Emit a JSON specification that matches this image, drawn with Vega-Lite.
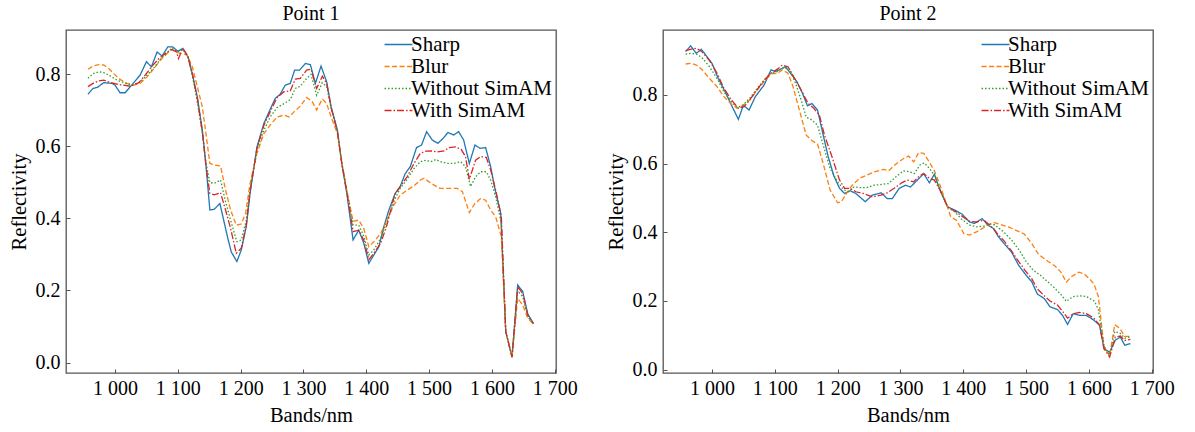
{
  "$schema": "https://vega.github.io/schema/vega-lite/v6.json",
  "background": "white",
  "padding": {"left": 8, "top": 3, "right": 2, "bottom": 2},
  "config": {
    "font": "Liberation Serif",
    "view": {"stroke": "#555555", "strokeWidth": 1.3},
    "axis": {"grid": false, "domain": false, "labelFont": "Liberation Serif", "labelFontSize": 20, "labelColor": "#000000", "titleFont": "Liberation Serif", "titleFontSize": 20.5, "titleFontWeight": "normal", "titleColor": "#000000", "tickColor": "#555555", "tickSize": -4, "tickWidth": 1},
    "axisX": {"labelPadding": 9, "titlePadding": 7, "labelFlush": false},
    "axisY": {"labelPadding": 10, "titlePadding": 6},
    "legend": {"labelFont": "Liberation Serif", "labelFontSize": 21, "labelColor": "#000000", "symbolType": "M-1.55,0H1.55", "symbolSize": 324, "symbolStrokeWidth": 1.3, "rowPadding": 0, "labelOffset": 2, "padding": 0, "offset": 4},
    "title": {"font": "Liberation Serif", "fontSize": 20, "fontWeight": "normal", "color": "#000000", "offset": 6}
  },
  "data": {"values": [
    {"point":1,"series":"Sharp","band":957,"value":0.744},{"point":1,"series":"Sharp","band":965,"value":0.760},{"point":1,"series":"Sharp","band":972,"value":0.763},{"point":1,"series":"Sharp","band":982,"value":0.776},{"point":1,"series":"Sharp","band":995,"value":0.774},{"point":1,"series":"Sharp","band":1000,"value":0.769},{"point":1,"series":"Sharp","band":1008,"value":0.748},{"point":1,"series":"Sharp","band":1016,"value":0.748},{"point":1,"series":"Sharp","band":1025,"value":0.766},{"point":1,"series":"Sharp","band":1040,"value":0.797},{"point":1,"series":"Sharp","band":1050,"value":0.834},{"point":1,"series":"Sharp","band":1058,"value":0.820},{"point":1,"series":"Sharp","band":1067,"value":0.861},{"point":1,"series":"Sharp","band":1075,"value":0.850},{"point":1,"series":"Sharp","band":1084,"value":0.875},{"point":1,"series":"Sharp","band":1092,"value":0.875},{"point":1,"series":"Sharp","band":1100,"value":0.863},{"point":1,"series":"Sharp","band":1108,"value":0.871},{"point":1,"series":"Sharp","band":1116,"value":0.848},{"point":1,"series":"Sharp","band":1123,"value":0.801},{"point":1,"series":"Sharp","band":1131,"value":0.737},{"point":1,"series":"Sharp","band":1139,"value":0.645},{"point":1,"series":"Sharp","band":1145,"value":0.543},{"point":1,"series":"Sharp","band":1151,"value":0.423},{"point":1,"series":"Sharp","band":1158,"value":0.425},{"point":1,"series":"Sharp","band":1167,"value":0.441},{"point":1,"series":"Sharp","band":1173,"value":0.395},{"point":1,"series":"Sharp","band":1179,"value":0.349},{"point":1,"series":"Sharp","band":1185,"value":0.307},{"point":1,"series":"Sharp","band":1194,"value":0.280},{"point":1,"series":"Sharp","band":1201,"value":0.312},{"point":1,"series":"Sharp","band":1209,"value":0.377},{"point":1,"series":"Sharp","band":1215,"value":0.469},{"point":1,"series":"Sharp","band":1226,"value":0.598},{"point":1,"series":"Sharp","band":1237,"value":0.663},{"point":1,"series":"Sharp","band":1247,"value":0.702},{"point":1,"series":"Sharp","band":1255,"value":0.732},{"point":1,"series":"Sharp","band":1263,"value":0.744},{"point":1,"series":"Sharp","band":1271,"value":0.769},{"point":1,"series":"Sharp","band":1279,"value":0.774},{"point":1,"series":"Sharp","band":1286,"value":0.811},{"point":1,"series":"Sharp","band":1294,"value":0.811},{"point":1,"series":"Sharp","band":1303,"value":0.829},{"point":1,"series":"Sharp","band":1311,"value":0.826},{"point":1,"series":"Sharp","band":1319,"value":0.774},{"point":1,"series":"Sharp","band":1328,"value":0.822},{"point":1,"series":"Sharp","band":1337,"value":0.778},{"point":1,"series":"Sharp","band":1344,"value":0.709},{"point":1,"series":"Sharp","band":1354,"value":0.645},{"point":1,"series":"Sharp","band":1361,"value":0.552},{"point":1,"series":"Sharp","band":1369,"value":0.469},{"point":1,"series":"Sharp","band":1379,"value":0.340},{"point":1,"series":"Sharp","band":1388,"value":0.367},{"point":1,"series":"Sharp","band":1396,"value":0.331},{"point":1,"series":"Sharp","band":1404,"value":0.275},{"point":1,"series":"Sharp","band":1412,"value":0.298},{"point":1,"series":"Sharp","band":1420,"value":0.321},{"point":1,"series":"Sharp","band":1428,"value":0.377},{"point":1,"series":"Sharp","band":1436,"value":0.423},{"point":1,"series":"Sharp","band":1446,"value":0.469},{"point":1,"series":"Sharp","band":1454,"value":0.488},{"point":1,"series":"Sharp","band":1462,"value":0.524},{"point":1,"series":"Sharp","band":1470,"value":0.543},{"point":1,"series":"Sharp","band":1480,"value":0.596},{"point":1,"series":"Sharp","band":1488,"value":0.603},{"point":1,"series":"Sharp","band":1496,"value":0.640},{"point":1,"series":"Sharp","band":1505,"value":0.617},{"point":1,"series":"Sharp","band":1514,"value":0.608},{"point":1,"series":"Sharp","band":1522,"value":0.621},{"point":1,"series":"Sharp","band":1530,"value":0.638},{"point":1,"series":"Sharp","band":1539,"value":0.631},{"point":1,"series":"Sharp","band":1547,"value":0.640},{"point":1,"series":"Sharp","band":1555,"value":0.617},{"point":1,"series":"Sharp","band":1564,"value":0.552},{"point":1,"series":"Sharp","band":1573,"value":0.603},{"point":1,"series":"Sharp","band":1581,"value":0.594},{"point":1,"series":"Sharp","band":1590,"value":0.596},{"point":1,"series":"Sharp","band":1598,"value":0.543},{"point":1,"series":"Sharp","band":1604,"value":0.488},{"point":1,"series":"Sharp","band":1614,"value":0.414},{"point":1,"series":"Sharp","band":1622,"value":0.086},{"point":1,"series":"Sharp","band":1632,"value":0.015},{"point":1,"series":"Sharp","band":1641,"value":0.215},{"point":1,"series":"Sharp","band":1649,"value":0.197},{"point":1,"series":"Sharp","band":1657,"value":0.135},{"point":1,"series":"Sharp","band":1666,"value":0.109},
    {"point":1,"series":"Blur","band":957,"value":0.813},{"point":1,"series":"Blur","band":965,"value":0.822},{"point":1,"series":"Blur","band":974,"value":0.826},{"point":1,"series":"Blur","band":982,"value":0.825},{"point":1,"series":"Blur","band":990,"value":0.815},{"point":1,"series":"Blur","band":998,"value":0.801},{"point":1,"series":"Blur","band":1008,"value":0.785},{"point":1,"series":"Blur","band":1019,"value":0.774},{"point":1,"series":"Blur","band":1030,"value":0.769},{"point":1,"series":"Blur","band":1040,"value":0.774},{"point":1,"series":"Blur","band":1051,"value":0.792},{"point":1,"series":"Blur","band":1062,"value":0.815},{"point":1,"series":"Blur","band":1072,"value":0.838},{"point":1,"series":"Blur","band":1083,"value":0.857},{"point":1,"series":"Blur","band":1091,"value":0.868},{"point":1,"series":"Blur","band":1099,"value":0.859},{"point":1,"series":"Blur","band":1107,"value":0.857},{"point":1,"series":"Blur","band":1115,"value":0.852},{"point":1,"series":"Blur","band":1123,"value":0.820},{"point":1,"series":"Blur","band":1131,"value":0.765},{"point":1,"series":"Blur","band":1139,"value":0.709},{"point":1,"series":"Blur","band":1144,"value":0.645},{"point":1,"series":"Blur","band":1151,"value":0.552},{"point":1,"series":"Blur","band":1158,"value":0.548},{"point":1,"series":"Blur","band":1168,"value":0.545},{"point":1,"series":"Blur","band":1176,"value":0.478},{"point":1,"series":"Blur","band":1184,"value":0.423},{"point":1,"series":"Blur","band":1193,"value":0.381},{"point":1,"series":"Blur","band":1201,"value":0.384},{"point":1,"series":"Blur","band":1208,"value":0.414},{"point":1,"series":"Blur","band":1215,"value":0.497},{"point":1,"series":"Blur","band":1226,"value":0.580},{"point":1,"series":"Blur","band":1237,"value":0.635},{"point":1,"series":"Blur","band":1247,"value":0.658},{"point":1,"series":"Blur","band":1258,"value":0.681},{"point":1,"series":"Blur","band":1269,"value":0.686},{"point":1,"series":"Blur","band":1277,"value":0.681},{"point":1,"series":"Blur","band":1285,"value":0.695},{"point":1,"series":"Blur","band":1295,"value":0.711},{"point":1,"series":"Blur","band":1305,"value":0.735},{"point":1,"series":"Blur","band":1314,"value":0.723},{"point":1,"series":"Blur","band":1321,"value":0.700},{"point":1,"series":"Blur","band":1330,"value":0.731},{"point":1,"series":"Blur","band":1337,"value":0.718},{"point":1,"series":"Blur","band":1344,"value":0.681},{"point":1,"series":"Blur","band":1354,"value":0.635},{"point":1,"series":"Blur","band":1361,"value":0.557},{"point":1,"series":"Blur","band":1369,"value":0.478},{"point":1,"series":"Blur","band":1379,"value":0.391},{"point":1,"series":"Blur","band":1388,"value":0.395},{"point":1,"series":"Blur","band":1396,"value":0.372},{"point":1,"series":"Blur","band":1404,"value":0.321},{"point":1,"series":"Blur","band":1412,"value":0.335},{"point":1,"series":"Blur","band":1423,"value":0.358},{"point":1,"series":"Blur","band":1433,"value":0.395},{"point":1,"series":"Blur","band":1444,"value":0.437},{"point":1,"series":"Blur","band":1454,"value":0.464},{"point":1,"series":"Blur","band":1465,"value":0.478},{"point":1,"series":"Blur","band":1476,"value":0.490},{"point":1,"series":"Blur","band":1486,"value":0.506},{"point":1,"series":"Blur","band":1492,"value":0.511},{"point":1,"series":"Blur","band":1500,"value":0.501},{"point":1,"series":"Blur","band":1508,"value":0.492},{"point":1,"series":"Blur","band":1517,"value":0.483},{"point":1,"series":"Blur","band":1526,"value":0.483},{"point":1,"series":"Blur","band":1534,"value":0.483},{"point":1,"series":"Blur","band":1545,"value":0.483},{"point":1,"series":"Blur","band":1553,"value":0.474},{"point":1,"series":"Blur","band":1564,"value":0.416},{"point":1,"series":"Blur","band":1573,"value":0.441},{"point":1,"series":"Blur","band":1582,"value":0.455},{"point":1,"series":"Blur","band":1590,"value":0.450},{"point":1,"series":"Blur","band":1598,"value":0.423},{"point":1,"series":"Blur","band":1606,"value":0.404},{"point":1,"series":"Blur","band":1615,"value":0.349},{"point":1,"series":"Blur","band":1622,"value":0.086},{"point":1,"series":"Blur","band":1632,"value":0.015},{"point":1,"series":"Blur","band":1641,"value":0.178},{"point":1,"series":"Blur","band":1649,"value":0.160},{"point":1,"series":"Blur","band":1657,"value":0.123},{"point":1,"series":"Blur","band":1666,"value":0.107},
    {"point":1,"series":"Without SimAM","band":957,"value":0.788},{"point":1,"series":"Without SimAM","band":965,"value":0.801},{"point":1,"series":"Without SimAM","band":974,"value":0.806},{"point":1,"series":"Without SimAM","band":982,"value":0.804},{"point":1,"series":"Without SimAM","band":993,"value":0.794},{"point":1,"series":"Without SimAM","band":1003,"value":0.783},{"point":1,"series":"Without SimAM","band":1014,"value":0.776},{"point":1,"series":"Without SimAM","band":1027,"value":0.769},{"point":1,"series":"Without SimAM","band":1040,"value":0.778},{"point":1,"series":"Without SimAM","band":1051,"value":0.797},{"point":1,"series":"Without SimAM","band":1062,"value":0.817},{"point":1,"series":"Without SimAM","band":1072,"value":0.840},{"point":1,"series":"Without SimAM","band":1083,"value":0.859},{"point":1,"series":"Without SimAM","band":1091,"value":0.873},{"point":1,"series":"Without SimAM","band":1099,"value":0.861},{"point":1,"series":"Without SimAM","band":1108,"value":0.868},{"point":1,"series":"Without SimAM","band":1116,"value":0.848},{"point":1,"series":"Without SimAM","band":1123,"value":0.797},{"point":1,"series":"Without SimAM","band":1131,"value":0.723},{"point":1,"series":"Without SimAM","band":1139,"value":0.635},{"point":1,"series":"Without SimAM","band":1145,"value":0.552},{"point":1,"series":"Without SimAM","band":1151,"value":0.499},{"point":1,"series":"Without SimAM","band":1158,"value":0.497},{"point":1,"series":"Without SimAM","band":1168,"value":0.506},{"point":1,"series":"Without SimAM","band":1176,"value":0.446},{"point":1,"series":"Without SimAM","band":1184,"value":0.395},{"point":1,"series":"Without SimAM","band":1194,"value":0.335},{"point":1,"series":"Without SimAM","band":1201,"value":0.340},{"point":1,"series":"Without SimAM","band":1209,"value":0.395},{"point":1,"series":"Without SimAM","band":1215,"value":0.478},{"point":1,"series":"Without SimAM","band":1226,"value":0.589},{"point":1,"series":"Without SimAM","band":1237,"value":0.644},{"point":1,"series":"Without SimAM","band":1247,"value":0.681},{"point":1,"series":"Without SimAM","band":1258,"value":0.707},{"point":1,"series":"Without SimAM","band":1269,"value":0.718},{"point":1,"series":"Without SimAM","band":1279,"value":0.729},{"point":1,"series":"Without SimAM","band":1287,"value":0.760},{"point":1,"series":"Without SimAM","band":1295,"value":0.766},{"point":1,"series":"Without SimAM","band":1305,"value":0.788},{"point":1,"series":"Without SimAM","band":1312,"value":0.799},{"point":1,"series":"Without SimAM","band":1321,"value":0.741},{"point":1,"series":"Without SimAM","band":1330,"value":0.776},{"point":1,"series":"Without SimAM","band":1337,"value":0.765},{"point":1,"series":"Without SimAM","band":1344,"value":0.705},{"point":1,"series":"Without SimAM","band":1354,"value":0.640},{"point":1,"series":"Without SimAM","band":1361,"value":0.552},{"point":1,"series":"Without SimAM","band":1369,"value":0.474},{"point":1,"series":"Without SimAM","band":1379,"value":0.381},{"point":1,"series":"Without SimAM","band":1388,"value":0.381},{"point":1,"series":"Without SimAM","band":1396,"value":0.351},{"point":1,"series":"Without SimAM","band":1404,"value":0.298},{"point":1,"series":"Without SimAM","band":1412,"value":0.312},{"point":1,"series":"Without SimAM","band":1423,"value":0.344},{"point":1,"series":"Without SimAM","band":1433,"value":0.391},{"point":1,"series":"Without SimAM","band":1445,"value":0.451},{"point":1,"series":"Without SimAM","band":1454,"value":0.483},{"point":1,"series":"Without SimAM","band":1465,"value":0.508},{"point":1,"series":"Without SimAM","band":1476,"value":0.538},{"point":1,"series":"Without SimAM","band":1486,"value":0.557},{"point":1,"series":"Without SimAM","band":1495,"value":0.561},{"point":1,"series":"Without SimAM","band":1503,"value":0.557},{"point":1,"series":"Without SimAM","band":1511,"value":0.563},{"point":1,"series":"Without SimAM","band":1518,"value":0.557},{"point":1,"series":"Without SimAM","band":1529,"value":0.552},{"point":1,"series":"Without SimAM","band":1539,"value":0.552},{"point":1,"series":"Without SimAM","band":1550,"value":0.557},{"point":1,"series":"Without SimAM","band":1558,"value":0.543},{"point":1,"series":"Without SimAM","band":1566,"value":0.488},{"point":1,"series":"Without SimAM","band":1574,"value":0.515},{"point":1,"series":"Without SimAM","band":1582,"value":0.529},{"point":1,"series":"Without SimAM","band":1591,"value":0.529},{"point":1,"series":"Without SimAM","band":1598,"value":0.506},{"point":1,"series":"Without SimAM","band":1606,"value":0.460},{"point":1,"series":"Without SimAM","band":1615,"value":0.386},{"point":1,"series":"Without SimAM","band":1622,"value":0.086},{"point":1,"series":"Without SimAM","band":1632,"value":0.015},{"point":1,"series":"Without SimAM","band":1641,"value":0.199},{"point":1,"series":"Without SimAM","band":1649,"value":0.183},{"point":1,"series":"Without SimAM","band":1657,"value":0.127},{"point":1,"series":"Without SimAM","band":1666,"value":0.109},
    {"point":1,"series":"With SimAM","band":957,"value":0.765},{"point":1,"series":"With SimAM","band":965,"value":0.774},{"point":1,"series":"With SimAM","band":974,"value":0.781},{"point":1,"series":"With SimAM","band":982,"value":0.783},{"point":1,"series":"With SimAM","band":993,"value":0.776},{"point":1,"series":"With SimAM","band":1003,"value":0.772},{"point":1,"series":"With SimAM","band":1014,"value":0.769},{"point":1,"series":"With SimAM","band":1024,"value":0.766},{"point":1,"series":"With SimAM","band":1038,"value":0.776},{"point":1,"series":"With SimAM","band":1048,"value":0.797},{"point":1,"series":"With SimAM","band":1059,"value":0.822},{"point":1,"series":"With SimAM","band":1070,"value":0.843},{"point":1,"series":"With SimAM","band":1080,"value":0.857},{"point":1,"series":"With SimAM","band":1090,"value":0.868},{"point":1,"series":"With SimAM","band":1098,"value":0.861},{"point":1,"series":"With SimAM","band":1101,"value":0.843},{"point":1,"series":"With SimAM","band":1108,"value":0.871},{"point":1,"series":"With SimAM","band":1116,"value":0.850},{"point":1,"series":"With SimAM","band":1123,"value":0.801},{"point":1,"series":"With SimAM","band":1131,"value":0.732},{"point":1,"series":"With SimAM","band":1139,"value":0.640},{"point":1,"series":"With SimAM","band":1145,"value":0.543},{"point":1,"series":"With SimAM","band":1151,"value":0.469},{"point":1,"series":"With SimAM","band":1158,"value":0.465},{"point":1,"series":"With SimAM","band":1168,"value":0.471},{"point":1,"series":"With SimAM","band":1176,"value":0.423},{"point":1,"series":"With SimAM","band":1184,"value":0.372},{"point":1,"series":"With SimAM","band":1193,"value":0.303},{"point":1,"series":"With SimAM","band":1201,"value":0.317},{"point":1,"series":"With SimAM","band":1209,"value":0.382},{"point":1,"series":"With SimAM","band":1215,"value":0.474},{"point":1,"series":"With SimAM","band":1226,"value":0.594},{"point":1,"series":"With SimAM","band":1237,"value":0.658},{"point":1,"series":"With SimAM","band":1247,"value":0.695},{"point":1,"series":"With SimAM","band":1258,"value":0.735},{"point":1,"series":"With SimAM","band":1269,"value":0.751},{"point":1,"series":"With SimAM","band":1279,"value":0.753},{"point":1,"series":"With SimAM","band":1287,"value":0.786},{"point":1,"series":"With SimAM","band":1295,"value":0.788},{"point":1,"series":"With SimAM","band":1305,"value":0.811},{"point":1,"series":"With SimAM","band":1312,"value":0.813},{"point":1,"series":"With SimAM","band":1321,"value":0.760},{"point":1,"series":"With SimAM","band":1330,"value":0.794},{"point":1,"series":"With SimAM","band":1337,"value":0.774},{"point":1,"series":"With SimAM","band":1344,"value":0.707},{"point":1,"series":"With SimAM","band":1354,"value":0.640},{"point":1,"series":"With SimAM","band":1361,"value":0.552},{"point":1,"series":"With SimAM","band":1369,"value":0.474},{"point":1,"series":"With SimAM","band":1379,"value":0.363},{"point":1,"series":"With SimAM","band":1388,"value":0.367},{"point":1,"series":"With SimAM","band":1396,"value":0.340},{"point":1,"series":"With SimAM","band":1404,"value":0.285},{"point":1,"series":"With SimAM","band":1412,"value":0.303},{"point":1,"series":"With SimAM","band":1423,"value":0.331},{"point":1,"series":"With SimAM","band":1433,"value":0.382},{"point":1,"series":"With SimAM","band":1445,"value":0.464},{"point":1,"series":"With SimAM","band":1454,"value":0.488},{"point":1,"series":"With SimAM","band":1465,"value":0.515},{"point":1,"series":"With SimAM","band":1476,"value":0.552},{"point":1,"series":"With SimAM","band":1486,"value":0.580},{"point":1,"series":"With SimAM","band":1495,"value":0.586},{"point":1,"series":"With SimAM","band":1503,"value":0.587},{"point":1,"series":"With SimAM","band":1513,"value":0.584},{"point":1,"series":"With SimAM","band":1524,"value":0.587},{"point":1,"series":"With SimAM","band":1532,"value":0.596},{"point":1,"series":"With SimAM","band":1542,"value":0.598},{"point":1,"series":"With SimAM","band":1551,"value":0.591},{"point":1,"series":"With SimAM","band":1558,"value":0.571},{"point":1,"series":"With SimAM","band":1564,"value":0.508},{"point":1,"series":"With SimAM","band":1574,"value":0.561},{"point":1,"series":"With SimAM","band":1582,"value":0.571},{"point":1,"series":"With SimAM","band":1591,"value":0.569},{"point":1,"series":"With SimAM","band":1598,"value":0.534},{"point":1,"series":"With SimAM","band":1606,"value":0.478},{"point":1,"series":"With SimAM","band":1615,"value":0.404},{"point":1,"series":"With SimAM","band":1622,"value":0.086},{"point":1,"series":"With SimAM","band":1632,"value":0.015},{"point":1,"series":"With SimAM","band":1641,"value":0.210},{"point":1,"series":"With SimAM","band":1649,"value":0.192},{"point":1,"series":"With SimAM","band":1657,"value":0.132},{"point":1,"series":"With SimAM","band":1666,"value":0.107},
    {"point":2,"series":"Sharp","band":958,"value":0.926},{"point":2,"series":"Sharp","band":966,"value":0.943},{"point":2,"series":"Sharp","band":975,"value":0.921},{"point":2,"series":"Sharp","band":983,"value":0.933},{"point":2,"series":"Sharp","band":990,"value":0.916},{"point":2,"series":"Sharp","band":1000,"value":0.892},{"point":2,"series":"Sharp","band":1010,"value":0.848},{"point":2,"series":"Sharp","band":1022,"value":0.805},{"point":2,"series":"Sharp","band":1031,"value":0.770},{"point":2,"series":"Sharp","band":1042,"value":0.729},{"point":2,"series":"Sharp","band":1050,"value":0.770},{"point":2,"series":"Sharp","band":1059,"value":0.756},{"point":2,"series":"Sharp","band":1069,"value":0.795},{"point":2,"series":"Sharp","band":1083,"value":0.829},{"point":2,"series":"Sharp","band":1094,"value":0.873},{"point":2,"series":"Sharp","band":1101,"value":0.868},{"point":2,"series":"Sharp","band":1108,"value":0.874},{"point":2,"series":"Sharp","band":1117,"value":0.882},{"point":2,"series":"Sharp","band":1125,"value":0.863},{"point":2,"series":"Sharp","band":1135,"value":0.839},{"point":2,"series":"Sharp","band":1144,"value":0.805},{"point":2,"series":"Sharp","band":1152,"value":0.768},{"point":2,"series":"Sharp","band":1159,"value":0.775},{"point":2,"series":"Sharp","band":1168,"value":0.756},{"point":2,"series":"Sharp","band":1177,"value":0.683},{"point":2,"series":"Sharp","band":1185,"value":0.620},{"point":2,"series":"Sharp","band":1194,"value":0.564},{"point":2,"series":"Sharp","band":1203,"value":0.528},{"point":2,"series":"Sharp","band":1211,"value":0.513},{"point":2,"series":"Sharp","band":1220,"value":0.521},{"point":2,"series":"Sharp","band":1229,"value":0.513},{"point":2,"series":"Sharp","band":1244,"value":0.489},{"point":2,"series":"Sharp","band":1255,"value":0.508},{"point":2,"series":"Sharp","band":1269,"value":0.515},{"point":2,"series":"Sharp","band":1279,"value":0.498},{"point":2,"series":"Sharp","band":1287,"value":0.498},{"point":2,"series":"Sharp","band":1298,"value":0.528},{"point":2,"series":"Sharp","band":1308,"value":0.537},{"point":2,"series":"Sharp","band":1316,"value":0.532},{"point":2,"series":"Sharp","band":1328,"value":0.554},{"point":2,"series":"Sharp","band":1337,"value":0.571},{"point":2,"series":"Sharp","band":1346,"value":0.544},{"point":2,"series":"Sharp","band":1354,"value":0.569},{"point":2,"series":"Sharp","band":1363,"value":0.523},{"point":2,"series":"Sharp","band":1375,"value":0.474},{"point":2,"series":"Sharp","band":1386,"value":0.465},{"point":2,"series":"Sharp","band":1398,"value":0.453},{"point":2,"series":"Sharp","band":1410,"value":0.430},{"point":2,"series":"Sharp","band":1418,"value":0.426},{"point":2,"series":"Sharp","band":1430,"value":0.440},{"point":2,"series":"Sharp","band":1439,"value":0.421},{"point":2,"series":"Sharp","band":1448,"value":0.411},{"point":2,"series":"Sharp","band":1456,"value":0.387},{"point":2,"series":"Sharp","band":1465,"value":0.367},{"point":2,"series":"Sharp","band":1477,"value":0.342},{"point":2,"series":"Sharp","band":1488,"value":0.304},{"point":2,"series":"Sharp","band":1500,"value":0.275},{"point":2,"series":"Sharp","band":1509,"value":0.256},{"point":2,"series":"Sharp","band":1518,"value":0.220},{"point":2,"series":"Sharp","band":1529,"value":0.207},{"point":2,"series":"Sharp","band":1538,"value":0.183},{"point":2,"series":"Sharp","band":1550,"value":0.175},{"point":2,"series":"Sharp","band":1558,"value":0.158},{"point":2,"series":"Sharp","band":1566,"value":0.132},{"point":2,"series":"Sharp","band":1575,"value":0.163},{"point":2,"series":"Sharp","band":1585,"value":0.158},{"point":2,"series":"Sharp","band":1596,"value":0.158},{"point":2,"series":"Sharp","band":1608,"value":0.144},{"point":2,"series":"Sharp","band":1617,"value":0.129},{"point":2,"series":"Sharp","band":1624,"value":0.061},{"point":2,"series":"Sharp","band":1633,"value":0.051},{"point":2,"series":"Sharp","band":1642,"value":0.086},{"point":2,"series":"Sharp","band":1650,"value":0.095},{"point":2,"series":"Sharp","band":1657,"value":0.071},{"point":2,"series":"Sharp","band":1666,"value":0.076},
    {"point":2,"series":"Blur","band":958,"value":0.890},{"point":2,"series":"Blur","band":967,"value":0.892},{"point":2,"series":"Blur","band":975,"value":0.887},{"point":2,"series":"Blur","band":984,"value":0.874},{"point":2,"series":"Blur","band":996,"value":0.848},{"point":2,"series":"Blur","band":1008,"value":0.824},{"point":2,"series":"Blur","band":1019,"value":0.795},{"point":2,"series":"Blur","band":1031,"value":0.773},{"point":2,"series":"Blur","band":1040,"value":0.761},{"point":2,"series":"Blur","band":1048,"value":0.768},{"point":2,"series":"Blur","band":1060,"value":0.785},{"point":2,"series":"Blur","band":1072,"value":0.814},{"point":2,"series":"Blur","band":1083,"value":0.839},{"point":2,"series":"Blur","band":1094,"value":0.861},{"point":2,"series":"Blur","band":1104,"value":0.863},{"point":2,"series":"Blur","band":1112,"value":0.873},{"point":2,"series":"Blur","band":1121,"value":0.863},{"point":2,"series":"Blur","band":1129,"value":0.824},{"point":2,"series":"Blur","band":1139,"value":0.756},{"point":2,"series":"Blur","band":1150,"value":0.683},{"point":2,"series":"Blur","band":1159,"value":0.667},{"point":2,"series":"Blur","band":1168,"value":0.657},{"point":2,"series":"Blur","band":1177,"value":0.600},{"point":2,"series":"Blur","band":1188,"value":0.523},{"point":2,"series":"Blur","band":1200,"value":0.486},{"point":2,"series":"Blur","band":1206,"value":0.489},{"point":2,"series":"Blur","band":1214,"value":0.513},{"point":2,"series":"Blur","band":1223,"value":0.537},{"point":2,"series":"Blur","band":1235,"value":0.557},{"point":2,"series":"Blur","band":1246,"value":0.566},{"point":2,"series":"Blur","band":1258,"value":0.576},{"point":2,"series":"Blur","band":1273,"value":0.583},{"point":2,"series":"Blur","band":1281,"value":0.579},{"point":2,"series":"Blur","band":1293,"value":0.599},{"point":2,"series":"Blur","band":1305,"value":0.615},{"point":2,"series":"Blur","band":1313,"value":0.622},{"point":2,"series":"Blur","band":1321,"value":0.605},{"point":2,"series":"Blur","band":1329,"value":0.632},{"point":2,"series":"Blur","band":1337,"value":0.630},{"point":2,"series":"Blur","band":1344,"value":0.610},{"point":2,"series":"Blur","band":1354,"value":0.579},{"point":2,"series":"Blur","band":1363,"value":0.537},{"point":2,"series":"Blur","band":1372,"value":0.489},{"point":2,"series":"Blur","band":1380,"value":0.445},{"point":2,"series":"Blur","band":1389,"value":0.435},{"point":2,"series":"Blur","band":1401,"value":0.396},{"point":2,"series":"Blur","band":1410,"value":0.392},{"point":2,"series":"Blur","band":1421,"value":0.401},{"point":2,"series":"Blur","band":1433,"value":0.414},{"point":2,"series":"Blur","band":1442,"value":0.424},{"point":2,"series":"Blur","band":1450,"value":0.428},{"point":2,"series":"Blur","band":1462,"value":0.421},{"point":2,"series":"Blur","band":1474,"value":0.414},{"point":2,"series":"Blur","band":1485,"value":0.405},{"point":2,"series":"Blur","band":1497,"value":0.395},{"point":2,"series":"Blur","band":1508,"value":0.370},{"point":2,"series":"Blur","band":1520,"value":0.335},{"point":2,"series":"Blur","band":1535,"value":0.315},{"point":2,"series":"Blur","band":1546,"value":0.302},{"point":2,"series":"Blur","band":1555,"value":0.285},{"point":2,"series":"Blur","band":1564,"value":0.255},{"point":2,"series":"Blur","band":1573,"value":0.272},{"point":2,"series":"Blur","band":1584,"value":0.284},{"point":2,"series":"Blur","band":1593,"value":0.278},{"point":2,"series":"Blur","band":1602,"value":0.262},{"point":2,"series":"Blur","band":1608,"value":0.250},{"point":2,"series":"Blur","band":1615,"value":0.213},{"point":2,"series":"Blur","band":1624,"value":0.068},{"point":2,"series":"Blur","band":1633,"value":0.040},{"point":2,"series":"Blur","band":1641,"value":0.131},{"point":2,"series":"Blur","band":1649,"value":0.121},{"point":2,"series":"Blur","band":1657,"value":0.097},{"point":2,"series":"Blur","band":1666,"value":0.097},
    {"point":2,"series":"Without SimAM","band":958,"value":0.919},{"point":2,"series":"Without SimAM","band":967,"value":0.921},{"point":2,"series":"Without SimAM","band":975,"value":0.919},{"point":2,"series":"Without SimAM","band":984,"value":0.909},{"point":2,"series":"Without SimAM","band":996,"value":0.882},{"point":2,"series":"Without SimAM","band":1008,"value":0.848},{"point":2,"series":"Without SimAM","band":1019,"value":0.809},{"point":2,"series":"Without SimAM","band":1031,"value":0.780},{"point":2,"series":"Without SimAM","band":1040,"value":0.764},{"point":2,"series":"Without SimAM","band":1048,"value":0.768},{"point":2,"series":"Without SimAM","band":1060,"value":0.790},{"point":2,"series":"Without SimAM","band":1072,"value":0.819},{"point":2,"series":"Without SimAM","band":1083,"value":0.843},{"point":2,"series":"Without SimAM","band":1094,"value":0.863},{"point":2,"series":"Without SimAM","band":1104,"value":0.868},{"point":2,"series":"Without SimAM","band":1114,"value":0.880},{"point":2,"series":"Without SimAM","band":1124,"value":0.873},{"point":2,"series":"Without SimAM","band":1133,"value":0.834},{"point":2,"series":"Without SimAM","band":1142,"value":0.785},{"point":2,"series":"Without SimAM","band":1150,"value":0.735},{"point":2,"series":"Without SimAM","band":1159,"value":0.727},{"point":2,"series":"Without SimAM","band":1168,"value":0.712},{"point":2,"series":"Without SimAM","band":1177,"value":0.654},{"point":2,"series":"Without SimAM","band":1188,"value":0.586},{"point":2,"series":"Without SimAM","band":1200,"value":0.547},{"point":2,"series":"Without SimAM","band":1209,"value":0.525},{"point":2,"series":"Without SimAM","band":1217,"value":0.518},{"point":2,"series":"Without SimAM","band":1226,"value":0.532},{"point":2,"series":"Without SimAM","band":1235,"value":0.530},{"point":2,"series":"Without SimAM","band":1246,"value":0.530},{"point":2,"series":"Without SimAM","band":1258,"value":0.537},{"point":2,"series":"Without SimAM","band":1273,"value":0.540},{"point":2,"series":"Without SimAM","band":1281,"value":0.542},{"point":2,"series":"Without SimAM","band":1293,"value":0.562},{"point":2,"series":"Without SimAM","band":1305,"value":0.579},{"point":2,"series":"Without SimAM","band":1315,"value":0.576},{"point":2,"series":"Without SimAM","band":1322,"value":0.571},{"point":2,"series":"Without SimAM","band":1331,"value":0.596},{"point":2,"series":"Without SimAM","band":1338,"value":0.602},{"point":2,"series":"Without SimAM","band":1346,"value":0.586},{"point":2,"series":"Without SimAM","band":1354,"value":0.566},{"point":2,"series":"Without SimAM","band":1363,"value":0.523},{"point":2,"series":"Without SimAM","band":1375,"value":0.474},{"point":2,"series":"Without SimAM","band":1386,"value":0.460},{"point":2,"series":"Without SimAM","band":1398,"value":0.437},{"point":2,"series":"Without SimAM","band":1410,"value":0.421},{"point":2,"series":"Without SimAM","band":1421,"value":0.416},{"point":2,"series":"Without SimAM","band":1433,"value":0.418},{"point":2,"series":"Without SimAM","band":1442,"value":0.424},{"point":2,"series":"Without SimAM","band":1450,"value":0.422},{"point":2,"series":"Without SimAM","band":1465,"value":0.400},{"point":2,"series":"Without SimAM","band":1479,"value":0.373},{"point":2,"series":"Without SimAM","band":1490,"value":0.345},{"point":2,"series":"Without SimAM","band":1500,"value":0.315},{"point":2,"series":"Without SimAM","band":1511,"value":0.290},{"point":2,"series":"Without SimAM","band":1522,"value":0.276},{"point":2,"series":"Without SimAM","band":1533,"value":0.258},{"point":2,"series":"Without SimAM","band":1543,"value":0.242},{"point":2,"series":"Without SimAM","band":1555,"value":0.220},{"point":2,"series":"Without SimAM","band":1564,"value":0.199},{"point":2,"series":"Without SimAM","band":1575,"value":0.213},{"point":2,"series":"Without SimAM","band":1586,"value":0.215},{"point":2,"series":"Without SimAM","band":1596,"value":0.213},{"point":2,"series":"Without SimAM","band":1609,"value":0.199},{"point":2,"series":"Without SimAM","band":1615,"value":0.175},{"point":2,"series":"Without SimAM","band":1624,"value":0.068},{"point":2,"series":"Without SimAM","band":1633,"value":0.043},{"point":2,"series":"Without SimAM","band":1641,"value":0.111},{"point":2,"series":"Without SimAM","band":1649,"value":0.107},{"point":2,"series":"Without SimAM","band":1657,"value":0.092},{"point":2,"series":"Without SimAM","band":1666,"value":0.095},
    {"point":2,"series":"With SimAM","band":958,"value":0.929},{"point":2,"series":"With SimAM","band":967,"value":0.933},{"point":2,"series":"With SimAM","band":975,"value":0.936},{"point":2,"series":"With SimAM","band":984,"value":0.926},{"point":2,"series":"With SimAM","band":996,"value":0.900},{"point":2,"series":"With SimAM","band":1008,"value":0.863},{"point":2,"series":"With SimAM","band":1019,"value":0.819},{"point":2,"series":"With SimAM","band":1031,"value":0.785},{"point":2,"series":"With SimAM","band":1042,"value":0.761},{"point":2,"series":"With SimAM","band":1051,"value":0.766},{"point":2,"series":"With SimAM","band":1060,"value":0.785},{"point":2,"series":"With SimAM","band":1072,"value":0.816},{"point":2,"series":"With SimAM","band":1083,"value":0.843},{"point":2,"series":"With SimAM","band":1094,"value":0.863},{"point":2,"series":"With SimAM","band":1104,"value":0.875},{"point":2,"series":"With SimAM","band":1112,"value":0.887},{"point":2,"series":"With SimAM","band":1121,"value":0.882},{"point":2,"series":"With SimAM","band":1130,"value":0.853},{"point":2,"series":"With SimAM","band":1142,"value":0.814},{"point":2,"series":"With SimAM","band":1153,"value":0.775},{"point":2,"series":"With SimAM","band":1162,"value":0.761},{"point":2,"series":"With SimAM","band":1171,"value":0.741},{"point":2,"series":"With SimAM","band":1179,"value":0.683},{"point":2,"series":"With SimAM","band":1191,"value":0.620},{"point":2,"series":"With SimAM","band":1203,"value":0.552},{"point":2,"series":"With SimAM","band":1211,"value":0.528},{"point":2,"series":"With SimAM","band":1220,"value":0.528},{"point":2,"series":"With SimAM","band":1229,"value":0.518},{"point":2,"series":"With SimAM","band":1241,"value":0.513},{"point":2,"series":"With SimAM","band":1255,"value":0.503},{"point":2,"series":"With SimAM","band":1269,"value":0.508},{"point":2,"series":"With SimAM","band":1279,"value":0.515},{"point":2,"series":"With SimAM","band":1290,"value":0.528},{"point":2,"series":"With SimAM","band":1302,"value":0.544},{"point":2,"series":"With SimAM","band":1311,"value":0.552},{"point":2,"series":"With SimAM","band":1321,"value":0.547},{"point":2,"series":"With SimAM","band":1329,"value":0.562},{"point":2,"series":"With SimAM","band":1337,"value":0.571},{"point":2,"series":"With SimAM","band":1346,"value":0.557},{"point":2,"series":"With SimAM","band":1354,"value":0.552},{"point":2,"series":"With SimAM","band":1363,"value":0.523},{"point":2,"series":"With SimAM","band":1375,"value":0.474},{"point":2,"series":"With SimAM","band":1386,"value":0.462},{"point":2,"series":"With SimAM","band":1398,"value":0.447},{"point":2,"series":"With SimAM","band":1410,"value":0.432},{"point":2,"series":"With SimAM","band":1421,"value":0.430},{"point":2,"series":"With SimAM","band":1433,"value":0.435},{"point":2,"series":"With SimAM","band":1442,"value":0.421},{"point":2,"series":"With SimAM","band":1448,"value":0.411},{"point":2,"series":"With SimAM","band":1456,"value":0.392},{"point":2,"series":"With SimAM","band":1465,"value":0.375},{"point":2,"series":"With SimAM","band":1477,"value":0.345},{"point":2,"series":"With SimAM","band":1488,"value":0.315},{"point":2,"series":"With SimAM","band":1500,"value":0.285},{"point":2,"series":"With SimAM","band":1509,"value":0.265},{"point":2,"series":"With SimAM","band":1518,"value":0.235},{"point":2,"series":"With SimAM","band":1529,"value":0.215},{"point":2,"series":"With SimAM","band":1538,"value":0.200},{"point":2,"series":"With SimAM","band":1550,"value":0.188},{"point":2,"series":"With SimAM","band":1558,"value":0.170},{"point":2,"series":"With SimAM","band":1566,"value":0.150},{"point":2,"series":"With SimAM","band":1575,"value":0.163},{"point":2,"series":"With SimAM","band":1585,"value":0.167},{"point":2,"series":"With SimAM","band":1596,"value":0.163},{"point":2,"series":"With SimAM","band":1608,"value":0.150},{"point":2,"series":"With SimAM","band":1617,"value":0.130},{"point":2,"series":"With SimAM","band":1624,"value":0.061},{"point":2,"series":"With SimAM","band":1633,"value":0.037},{"point":2,"series":"With SimAM","band":1642,"value":0.095},{"point":2,"series":"With SimAM","band":1650,"value":0.098},{"point":2,"series":"With SimAM","band":1657,"value":0.085},{"point":2,"series":"With SimAM","band":1666,"value":0.088}
  ]},
  "spacing": 27,
  "resolve": {"scale": {"y": "independent"}, "legend": {"color": "independent", "strokeDash": "independent"}},
  "hconcat": [
    {
      "width": 490, "height": 343,
      "title": "Point 1",
      "transform": [{"filter": "datum.point == 1"}],
      "mark": {"type": "line", "strokeWidth": 1.3},
      "encoding": {
        "x": {"field": "band", "type": "quantitative", "scale": {"domain": [922, 1702], "nice": false, "zero": false}, "axis": {"title": "Bands/nm", "values": [1000, 1100, 1200, 1300, 1400, 1500, 1600, 1700], "labelExpr": "replace(format(datum.value, ','), ',', ' ')"}},
        "y": {"field": "value", "type": "quantitative", "scale": {"domain": [-0.029, 0.922], "nice": false, "zero": false}, "axis": {"title": "Reflectivity", "values": [0, 0.2, 0.4, 0.6, 0.8], "format": ".1f"}},
        "color": {"field": "series", "type": "nominal", "scale": {"domain": ["Sharp", "Blur", "Without SimAM", "With SimAM"], "range": ["#1f77b4", "#ff7f0e", "#2ca02c", "#d62728"]}, "legend": {"title": null, "orient": "top-right"}},
        "strokeDash": {"field": "series", "type": "nominal", "scale": {"domain": ["Sharp", "Blur", "Without SimAM", "With SimAM"], "range": [[1, 0], [5, 2.5], [1.5, 2], [7, 2, 1.5, 2]]}, "legend": {"title": null, "orient": "top-right"}}
      }
    },
    {
      "width": 490, "height": 343,
      "title": "Point 2",
      "transform": [{"filter": "datum.point == 2"}],
      "mark": {"type": "line", "strokeWidth": 1.3},
      "encoding": {
        "x": {"field": "band", "type": "quantitative", "scale": {"domain": [922, 1702], "nice": false, "zero": false}, "axis": {"title": "Bands/nm", "values": [1000, 1100, 1200, 1300, 1400, 1500, 1600, 1700], "labelExpr": "replace(format(datum.value, ','), ',', ' ')"}},
        "y": {"field": "value", "type": "quantitative", "scale": {"domain": [-0.0097, 0.989], "nice": false, "zero": false}, "axis": {"title": "Reflectivity", "values": [0, 0.2, 0.4, 0.6, 0.8], "format": ".1f"}},
        "color": {"field": "series", "type": "nominal", "scale": {"domain": ["Sharp", "Blur", "Without SimAM", "With SimAM"], "range": ["#1f77b4", "#ff7f0e", "#2ca02c", "#d62728"]}, "legend": {"title": null, "orient": "top-right"}},
        "strokeDash": {"field": "series", "type": "nominal", "scale": {"domain": ["Sharp", "Blur", "Without SimAM", "With SimAM"], "range": [[1, 0], [5, 2.5], [1.5, 2], [7, 2, 1.5, 2]]}, "legend": {"title": null, "orient": "top-right"}}
      }
    }
  ]
}
